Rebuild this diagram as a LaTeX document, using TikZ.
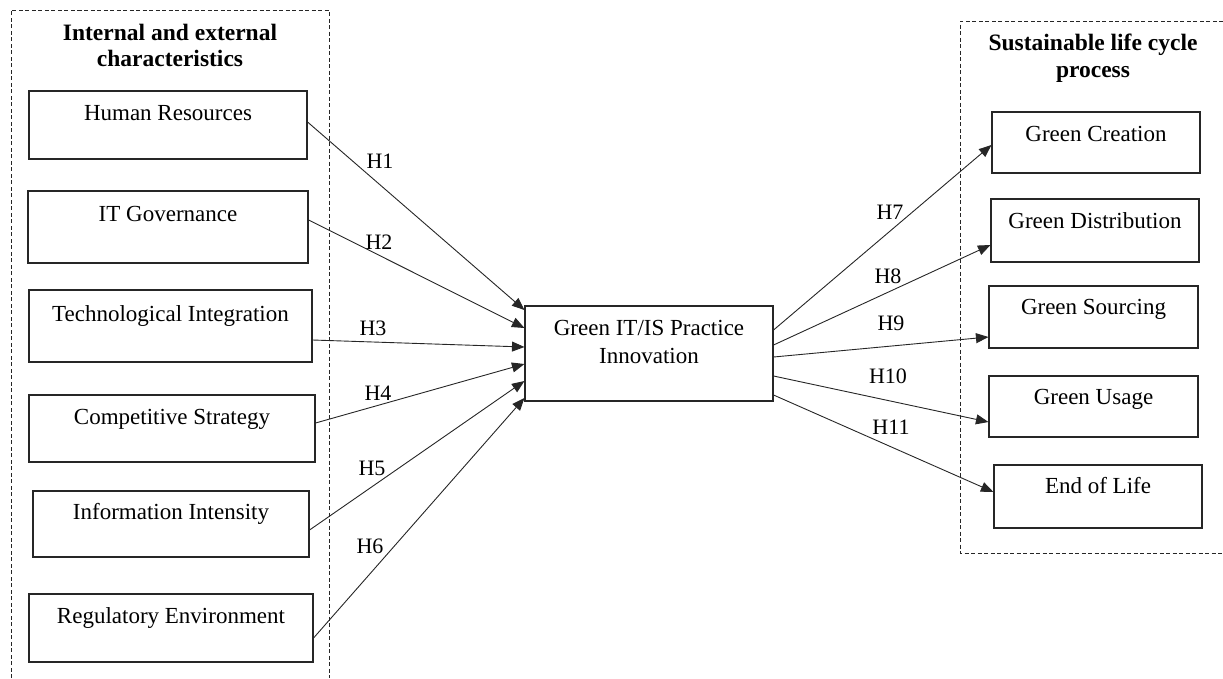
\documentclass[tikz,border=0pt]{standalone}
\usepackage{fontspec}
\setmainfont{Liberation Serif}
\usetikzlibrary{arrows.meta}

\tikzset{
  box/.style={draw=black!85, line width=1.1pt, inner sep=0pt, rectangle},
  boxtext/.style={anchor=base, inner sep=0pt, font=\fontsize{23}{27}\selectfont},
  grouptitle/.style={anchor=base, inner sep=0pt, font=\fontsize{23.5}{26}\selectfont\bfseries},
  hlabel/.style={inner sep=0pt, font=\fontsize{22}{26}\selectfont},
  link/.style={draw=black!85, line width=0.9pt, -{Triangle[length=12.5pt,width=10pt]}},
  frame/.style={draw=black!85, line width=0.9pt, dash pattern=on 4pt off 2.5pt}
}

\begin{document}
\begin{tikzpicture}[x=1pt, y=-1pt]
\useasboundingbox (0,0) rectangle (1223,678);

% group frames (open where they run off the page)
\draw[frame] (11,678) -- (11,10) -- (329,10) -- (329,678);
\draw[frame] (1223,21) -- (960,21) -- (960,553) -- (1223,553);

% group titles
\node[grouptitle] (tl1) at (170,40) {Internal and external};
\node[grouptitle] (tl2) at (170,66) {characteristics};
\node[grouptitle] (tr1) at (1093,50) {Sustainable life cycle};
\node[grouptitle] (tr2) at (1093,77) {process};

% antecedents
\node[box, minimum width=278pt, minimum height=68pt] (hr)  at (168,125)   {};
\node[box, minimum width=280pt, minimum height=72pt] (itg) at (168,227)   {};
\node[box, minimum width=283pt, minimum height=72pt] (ti)  at (170.5,326) {};
\node[box, minimum width=286pt, minimum height=67pt] (cs)  at (172,428.5) {};
\node[box, minimum width=276pt, minimum height=66pt] (ii)  at (171,524)   {};
\node[box, minimum width=284pt, minimum height=68pt] (re)  at (171,628)   {};

\node[boxtext] (hrt)  at ([yshift=-30pt]hr.north)  {Human Resources};
\node[boxtext] (itgt) at ([yshift=-31pt]itg.north) {IT Governance};
\node[boxtext] (tit)  at ([yshift=-32pt]ti.north)  {Technological Integration};
\node[boxtext] (cst)  at ([yshift=-30pt]cs.north)  {Competitive Strategy};
\node[boxtext] (iit)  at ([yshift=-29pt]ii.north)  {Information Intensity};
\node[boxtext] (ret)  at ([yshift=-30pt]re.north)  {Regulatory Environment};

% central construct
\node[box, minimum width=248pt, minimum height=95pt] (cb) at (649,353.5) {};
\node[boxtext] (cbt1) at ([yshift=-30pt]cb.north) {Green IT/IS Practice};
\node[boxtext] (cbt2) at ([yshift=-58pt]cb.north) {Innovation};

% outcomes
\node[box, minimum width=208pt, minimum height=61pt] (gc)  at (1096,142.5)  {};
\node[box, minimum width=208pt, minimum height=63pt] (gd)  at (1095,230.5)  {};
\node[box, minimum width=209pt, minimum height=62pt] (gs)  at (1093.5,317)  {};
\node[box, minimum width=209pt, minimum height=61pt] (gu)  at (1093.5,406.5){};
\node[box, minimum width=208pt, minimum height=63pt] (eol) at (1098,496.5)  {};

\node[boxtext] (gct)  at ([yshift=-30pt]gc.north)  {Green Creation};
\node[boxtext] (gdt)  at ([yshift=-30pt]gd.north)  {Green Distribution};
\node[boxtext] (gst)  at ([yshift=-29pt]gs.north)  {Green Sourcing};
\node[boxtext] (gut)  at ([yshift=-29pt]gu.north)  {Green Usage};
\node[boxtext] (eolt) at ([yshift=-29pt]eol.north) {End of Life};

% hypotheses H1--H6
\draw[link] ([yshift=3pt]hr.east)    -- ([yshift=43.5pt]cb.west);
\draw[link] ([yshift=7pt]itg.east)   -- ([yshift=25.5pt]cb.west);
\draw[link] ([yshift=-14pt]ti.east)  -- ([yshift=6.5pt]cb.west);
\draw[link] ([yshift=5.5pt]cs.east)  -- ([yshift=-10.5pt]cb.west);
\draw[link] ([yshift=-6pt]ii.east)   -- ([yshift=-27.5pt]cb.west);
\draw[link] ([yshift=-10pt]re.east)  -- ([yshift=-44.5pt]cb.west);

% hypotheses H7--H11
\draw[link] ([yshift=23.5pt]cb.east)  -- ([yshift=-2.5pt]gc.west);
\draw[link] ([yshift=8.5pt]cb.east)   -- ([yshift=-14.5pt]gd.west);
\draw[link] ([yshift=-3.5pt]cb.east)  -- ([yshift=-20pt]gs.west);
\draw[link] ([yshift=-22.5pt]cb.east) -- ([yshift=-15.5pt]gu.west);
\draw[link] ([yshift=-41.5pt]cb.east) -- ([yshift=4.5pt]eol.west);

% hypothesis labels
\node[hlabel] (h1)  at (380,161) {H1};
\node[hlabel] (h2)  at (379,242) {H2};
\node[hlabel] (h3)  at (373,328) {H3};
\node[hlabel] (h4)  at (378,393) {H4};
\node[hlabel] (h5)  at (372,468) {H5};
\node[hlabel] (h6)  at (370,546) {H6};
\node[hlabel] (h7)  at (890,212) {H7};
\node[hlabel] (h8)  at (888,276) {H8};
\node[hlabel] (h9)  at (891,323) {H9};
\node[hlabel] (h10) at (888,376) {H10};
\node[hlabel] (h11) at (891,427) {H11};
\end{tikzpicture}
\end{document}
